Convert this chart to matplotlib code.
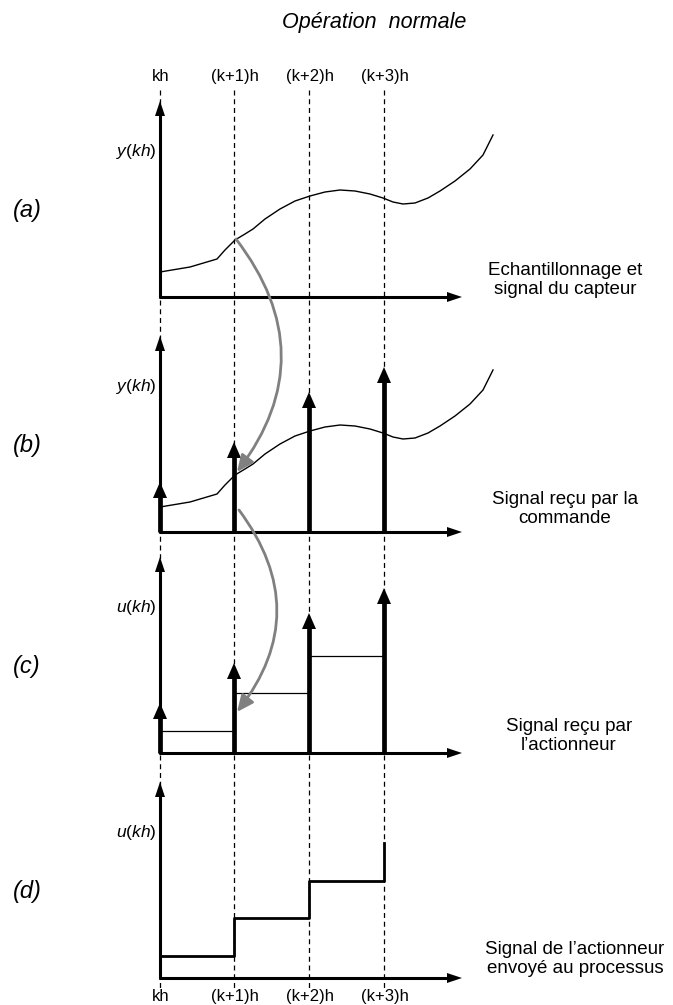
import matplotlib
matplotlib.use("Agg")
import matplotlib.pyplot as plt
from matplotlib.patches import FancyArrowPatch

plt.rcParams["font.family"] = ["Liberation Sans", "DejaVu Sans"]
plt.rcParams["mathtext.fontset"] = "custom"
plt.rcParams["mathtext.rm"] = "Liberation Sans"
plt.rcParams["mathtext.it"] = "Liberation Sans:italic"

# sample instants (x in pixels) and labels
sample_x = [160, 234, 309, 384]
sample_labels = ["kh", "(k+1)h", "(k+2)h", "(k+3)h"]

# baselines of the four panels (pixels from the top)
baselines = [297, 532, 753, 978]
panel_tags = ["(a)", "(b)", "(c)", "(d)"]
axis_labels = [r"$y(kh)$", r"$y(kh)$", r"$u(kh)$", r"$u(kh)$"]
side_texts = [
    "Echantillonnage et\nsignal du capteur",
    "Signal reçu par la\ncommande",
    "Signal reçu par\nl\u2019actionneur",
    "Signal de l\u2019actionneur\nenvoyé au processus",
]
side_x = [565, 565, 569, 575]
side_dy = [17, 23, 17, 19]

# sensor signal (height above baseline)
curve_x = [160, 190, 217, 225, 235, 245, 253, 265, 280, 295, 310, 325, 340,
           355, 370, 383, 393, 403, 415, 428, 440, 455, 470, 483, 493]
curve_h = [25, 30, 38, 47, 57, 63, 68, 78, 88, 96, 101, 105, 107,
           106, 103, 99, 95, 93, 94, 99, 106, 116, 128, 142, 162]

# impulse heights received in (b) and (c)
impulse_h = [50, 90, 140, 165]
# held control levels
held_levels = [22, 60, 97, 135]
axis_height = 196

fig = plt.figure(figsize=(6.73, 10.05), dpi=100)
ax = fig.add_axes([0, 0, 1, 1])
ax.set_xlim(0, 673)
ax.set_ylim(1005, 0)
ax.axis("off")


def up_arrow(x, y0, y1, lw, head_w, head_l, color="black", z=4):
    ax.plot([x, x], [y0, y1 + head_l * 0.5], color=color, lw=lw,
            solid_capstyle="butt", zorder=z)
    ax.fill([x - head_w / 2, x + head_w / 2, x], [y1 + head_l, y1 + head_l, y1],
            color=color, lw=0, zorder=z)


def right_arrow(y, x0, x1, lw, head_w, head_l):
    ax.plot([x0, x1 - head_l * 0.5], [y, y], color="black", lw=lw,
            solid_capstyle="butt", zorder=4)
    ax.fill([x1 - head_l, x1 - head_l, x1], [y - head_w / 2, y + head_w / 2, y],
            color="black", lw=0, zorder=4)


ax.text(374, 22, "Opération  normale", ha="center", va="center",
        fontsize=15.5, style="italic")

# dashed sampling lines
for x in sample_x:
    ax.plot([x, x], [90, 990], color="black", lw=0.9, ls=(0, (4, 3)), zorder=1)
for x, lab in zip(sample_x, sample_labels):
    ax.text(x + 1, 76, lab, ha="center", va="center", fontsize=12)
    ax.text(x + 1, 996, lab, ha="center", va="center", fontsize=12)

for i, base in enumerate(baselines):
    # axes
    up_arrow(sample_x[0], base + 1, base - axis_height, 2.2, 10, 15)
    right_arrow(base, sample_x[0] - 1, 462, 2.2, 10, 15)
    ax.text(27, base - 87, panel_tags[i], ha="center", va="center",
            fontsize=17, style="italic")
    ax.text(136, base - 146, axis_labels[i], ha="center", va="center",
            fontsize=12.5)
    ax.text(side_x[i], base - side_dy[i], side_texts[i], ha="center",
            va="center", fontsize=13.5, linespacing=1.2)

# (a) and (b) sensor signal
for base in baselines[:2]:
    ax.plot(curve_x, [base - h for h in curve_h], color="black", lw=1.0,
            zorder=3)

# (b) and (c) impulses
for base in baselines[1:3]:
    for x, h in zip(sample_x, impulse_h):
        up_arrow(x, base, base - h, 3.4, 14, 16, z=5)

# (c) held levels, thin
base = baselines[2]
for j in range(3):
    ax.plot([sample_x[j], sample_x[j + 1]],
            [base - held_levels[j], base - held_levels[j]],
            color="black", lw=0.9, zorder=3)

# (d) zero-order hold
base = baselines[3]
step_x, step_y = [], []
for j in range(3):
    step_x += [sample_x[j], sample_x[j + 1]]
    step_y += [base - held_levels[j], base - held_levels[j]]
step_x.append(sample_x[3])
step_y.append(base - held_levels[3])
ax.plot(step_x, step_y, color="black", lw=2.0, zorder=3)

# grey transfer arrows: (a) -> (b) and (b) -> (c)
transfers = [((sample_x[1] + 2, baselines[0] - 58), (sample_x[1] + 3, baselines[1] - 60)),
             ((sample_x[1] + 5, baselines[1] - 22), (sample_x[1] + 3, baselines[2] - 41))]
for start, end in transfers:
    arr = FancyArrowPatch(start, end, connectionstyle="arc3,rad=-0.38",
                          arrowstyle="-|>,head_length=1.0,head_width=0.45",
                          mutation_scale=10, color="#808080", lw=2.0, zorder=6,
                          shrinkA=0, shrinkB=0)
    ax.add_patch(arr)

fig.savefig("out.png", dpi=100)
